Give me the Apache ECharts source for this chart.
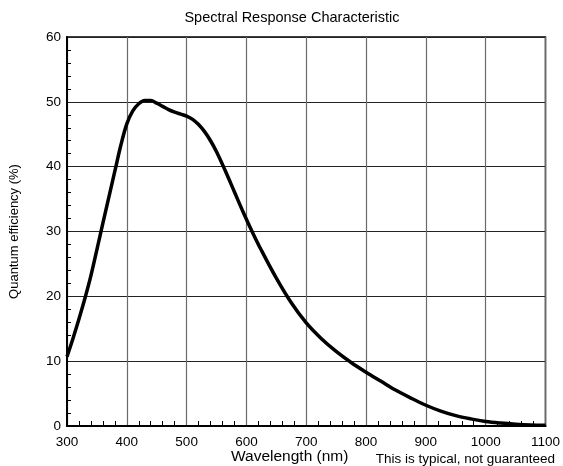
<!DOCTYPE html>
<html>
<head>
<meta charset="utf-8">
<script src="https://cdn.jsdelivr.net/npm/echarts@6/dist/echarts.min.js"></script>
<style>html,body{margin:0;padding:0;background:#fff}#c{width:563px;height:466px}</style>
</head>
<body>
<div id="c"></div>
<script>
const wavelengths = [300,310,320,330,340,350,360,370,380,390,400,410,420,430,440,450,460,470,480,490,500,510,520,530,540,550,565,580,595,610,625,650,675,700,725,750,775,800,825,850,875,900,925,950,975,1000,1025,1050,1075,1100];
const efficiency = [10.7,13.5,16.5,19.7,23.2,27.2,31.3,35.3,39.3,43.3,46.6,48.6,49.7,50.2,50.2,49.8,49.3,48.8,48.4,48.1,47.8,47.3,46.5,45.4,44.0,42.3,39.3,36.1,32.9,29.9,27.1,22.8,19.0,15.9,13.5,11.5,9.8,8.3,6.9,5.5,4.3,3.2,2.3,1.6,1.1,0.7,0.45,0.27,0.15,0.1];
const xTicks = [300,400,500,600,700,800,900,1000,1100];
const yTicks = [0,10,20,30,40,50,60];

const FONT = '"Liberation Sans", Arial, sans-serif';
const chart = echarts.init(document.getElementById('c'), null, {renderer:'canvas'});
chart.setOption({
  animation:false,
  backgroundColor:'#fff',
  title:{text:'Spectral Response Characteristic', left:287, top:5, textAlign:'center',
    textStyle:{fontFamily:FONT, fontSize:14.5, fontWeight:'normal', color:'#000'}},
  grid:{left:63, right:12, top:37, bottom:40, show:true, borderColor:'#000', borderWidth:1.5, backgroundColor:'transparent'},
  xAxis:{type:'value', min:xTicks[0], max:xTicks[xTicks.length-1], interval:100,
    axisLine:{show:true, lineStyle:{color:'#000', width:2}},
    axisTick:{show:false, inside:true},
    minorTick:{show:true, splitNumber:5, length:5, lineStyle:{color:'#000', width:1}},
    axisLabel:{color:'#000', fontFamily:FONT, fontSize:13.5, margin:9, formatter:v=>String(v)},
    splitLine:{show:true, lineStyle:{color:'#6a6a6a', width:1.2}}
  },
  yAxis:{type:'value', min:yTicks[0], max:yTicks[yTicks.length-1], interval:10,
    name:'Quantum efficiency (%)', nameLocation:'middle', nameGap:46,
    nameTextStyle:{color:'#000', fontFamily:FONT, fontSize:13},
    axisLine:{show:true, lineStyle:{color:'#000', width:2}},
    axisTick:{show:false, inside:true},
    minorTick:{show:true, splitNumber:5, length:4, lineStyle:{color:'#000', width:1}},
    axisLabel:{color:'#000', fontFamily:FONT, fontSize:13.5, margin:6},
    splitLine:{show:true, lineStyle:{color:'#222', width:1}}
  },
  graphic:[
    {type:'text', left:231, top:449, style:{text:'Wavelength (nm)', fontFamily:FONT, fontSize:15.5, fill:'#000'}},
    {type:'text', right:8, top:452, style:{text:'This is typical, not guaranteed', fontFamily:FONT, fontSize:13.5, fill:'#000'}}
  ],
  series:[{type:'line', data:wavelengths.map((w,i)=>[w, efficiency[i]]), showSymbol:false, smooth:0.35,
    lineStyle:{color:'#000', width:3.5}}]
});
</script>
</body>
</html>
